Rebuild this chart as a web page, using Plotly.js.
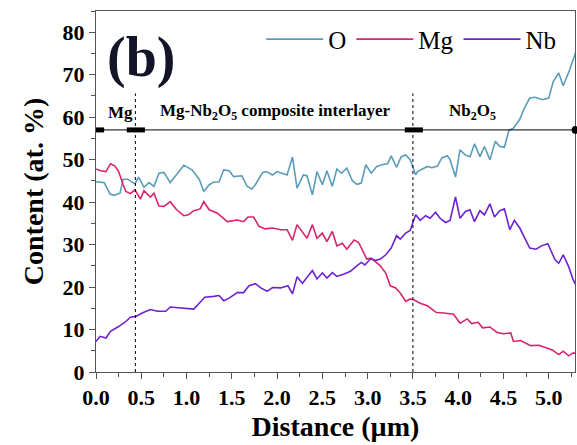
<!DOCTYPE html>
<html>
<head>
<meta charset="utf-8">
<script src="https://cdn.plot.ly/plotly-3.0.1.min.js"></script>
<style>html,body{margin:0;padding:0;background:#fff;}#chart{width:577px;height:445px;}</style>
</head>
<body>
<div id="chart"></div>
<script>
// Oxygen profile
var xO = [0.0,0.09,0.155,0.2,0.265,0.30,0.35,0.39,0.43,0.47,0.53,0.585,0.64,0.695,0.75,0.82,0.90,0.97,1.06,1.14,1.19,1.25,1.30,1.36,1.41,1.47,1.52,1.61,1.67,1.72,1.76,1.84,1.88,1.95,2.0,2.11,2.17,2.22,2.29,2.33,2.39,2.44,2.50,2.55,2.61,2.66,2.71,2.77,2.83,2.88,2.93,2.98,3.04,3.10,3.16,3.22,3.26,3.32,3.37,3.42,3.47,3.53,3.55,3.66,3.71,3.77,3.82,3.88,3.91,3.97,4.02,4.08,4.13,4.18,4.24,4.29,4.35,4.41,4.46,4.51,4.56,4.61,4.68,4.73,4.79,4.85,4.93,5.0,5.05,5.11,5.16,5.23,5.30];
var yO = [44.8,44.6,41.9,41.6,42.1,45.4,45.4,44.8,44.3,45.9,43.5,44.6,43.7,46.8,47.0,44.6,46.8,48.7,47.6,45.4,42.5,44.1,44.7,44.8,47.6,47.4,46.0,46.2,43.7,43.1,44.1,47.0,47.2,46.4,47.2,46.4,50.6,43.3,46.4,46.2,41.7,47.2,44.1,47.4,43.7,47.8,46.8,48.0,45.1,44.2,44.5,48.8,46.8,48.4,48.8,49.0,50.9,48.2,50.7,51.1,50.0,46.4,47.2,48.4,48.1,48.5,50.4,50.9,50.0,45.9,52.3,51.1,50.7,53.7,50.7,53.1,50.0,54.3,53.1,52.9,56.9,57.4,59.5,62.1,64.5,64.7,64.1,64.5,68.4,70.4,67.4,71.1,75.4];
// Magnesium profile
var xMg = [0.0,0.05,0.11,0.16,0.21,0.25,0.30,0.33,0.38,0.43,0.49,0.53,0.60,0.64,0.695,0.75,0.82,0.89,0.97,1.02,1.08,1.15,1.19,1.25,1.34,1.45,1.56,1.63,1.68,1.74,1.80,1.87,1.95,2.04,2.11,2.17,2.22,2.28,2.33,2.39,2.44,2.50,2.55,2.61,2.66,2.72,2.77,2.85,2.90,2.94,2.99,3.04,3.09,3.14,3.20,3.25,3.31,3.36,3.42,3.47,3.51,3.58,3.66,3.76,3.84,3.95,4.02,4.10,4.15,4.22,4.27,4.35,4.43,4.50,4.58,4.61,4.69,4.80,4.89,4.98,5.04,5.11,5.16,5.22,5.27,5.30];
var yMg = [47.8,47.4,47.2,49.0,48.5,47.2,44.1,42.5,42.0,42.9,40.7,42.7,41.2,42.1,39.1,39.0,40.1,38.2,36.8,37.0,38.0,38.4,40.1,38.2,37.4,35.4,35.8,35.4,36.5,36.5,34.3,33.7,33.9,33.5,33.5,31.0,34.7,33.1,31.5,34.7,31.5,32.7,30.7,33.1,29.7,30.3,28.9,31.1,30.5,28.8,26.6,26.8,26.0,25.0,23.3,20.3,19.8,18.6,16.6,17.2,17.0,16.2,15.6,14.0,13.9,13.6,11.5,12.5,11.4,11.7,10.4,10.6,9.3,9.0,9.2,7.2,7.4,6.2,6.3,5.6,5.2,4.1,4.9,3.8,4.5,4.3];
// Niobium profile
var xNb = [0.0,0.045,0.11,0.16,0.25,0.33,0.38,0.44,0.51,0.60,0.68,0.77,0.82,0.90,0.99,1.08,1.14,1.20,1.30,1.36,1.41,1.47,1.56,1.63,1.69,1.76,1.82,1.89,1.95,2.04,2.12,2.17,2.22,2.28,2.39,2.44,2.50,2.55,2.61,2.66,2.74,2.81,2.88,2.93,2.97,3.03,3.09,3.14,3.20,3.26,3.32,3.36,3.42,3.47,3.53,3.58,3.64,3.69,3.75,3.80,3.86,3.91,3.97,4.02,4.08,4.13,4.18,4.24,4.29,4.35,4.40,4.46,4.51,4.57,4.62,4.68,4.79,4.86,4.92,4.99,5.07,5.11,5.16,5.22,5.27,5.30];
var yNb = [7.2,8.4,8.0,9.6,10.7,11.9,12.9,13.1,13.9,14.7,14.3,14.3,15.3,15.1,14.9,14.8,16.2,17.6,17.8,18.0,16.8,17.4,18.7,18.7,20.3,20.8,19.8,19.0,19.9,19.8,20.3,18.4,22.4,20.9,23.9,21.9,23.3,22.1,23.4,22.5,23.1,23.7,25.0,25.8,25.2,26.6,26.3,26.6,27.6,29.2,32.1,31.3,32.7,33.3,37.0,35.7,36.8,36.2,37.6,36.2,35.2,35.7,41.2,36.2,37.8,38.2,35.4,38.0,37.0,39.6,36.5,38.0,38.4,33.5,35.7,33.9,29.2,28.9,29.7,30.2,26.4,25.6,27.6,24.8,21.7,20.5];

var seriesNames = ['O','Mg','Nb'];
var seriesColors = ['#5b9bbb','#d9246e','#6f22d2'];
var xTickVals = [0,0.5,1,1.5,2,2.5,3,3.5,4,4.5,5];
var xTickText = ['0.0','0.5','1.0','1.5','2.0','2.5','3.0','3.5','4.0','4.5','5.0'];
var yTickVals = [0,10,20,30,40,50,60,70,80];

var boundaryLevel = 57;
var boundaries = [0.435, 3.5];
var layerLabels = ['Mg','Mg-Nb<sub>2</sub>O<sub>5</sub> composite interlayer','Nb<sub>2</sub>O<sub>5</sub>'];
var layerLabelX = [0.27, 1.98, 4.16];

var serif = 'Liberation Serif';

var traces = [[xO,yO],[xMg,yMg],[xNb,yNb]].map(function(d,i){
  return {x:d[0], y:d[1], type:'scatter', mode:'lines', name:seriesNames[i],
          line:{color:seriesColors[i], width:1.6}};
});

var shapes = [
  {type:'line', xref:'paper', yref:'y', x0:0, x1:1, y0:boundaryLevel, y1:boundaryLevel, line:{color:'#000', width:1}},
  {type:'line', xref:'x', yref:'y', x0:0, x1:0.09, y0:boundaryLevel, y1:boundaryLevel, line:{color:'#000', width:5}},
  {type:'line', xref:'x', yref:'y', x0:0.34, x1:0.54, y0:boundaryLevel, y1:boundaryLevel, line:{color:'#000', width:5}},
  {type:'line', xref:'x', yref:'y', x0:3.41, x1:3.61, y0:boundaryLevel, y1:boundaryLevel, line:{color:'#000', width:5}},
  {type:'circle', xref:'paper', yref:'y', x0:0.993, x1:1.008, y0:boundaryLevel-0.9, y1:boundaryLevel+0.9, fillcolor:'#000', line:{color:'#000', width:0}}
];
boundaries.forEach(function(b){
  shapes.push({type:'line', xref:'x', yref:'y', x0:b, x1:b, y0:0, y1:65.6, line:{color:'#000', width:1, dash:'dot'}});
});

var annotations = [
  {text:'<b>(b)</b>', xref:'paper', yref:'paper', x:0.018, y:0.87, xanchor:'left', yanchor:'middle', showarrow:false,
   font:{family:serif, size:56, color:'#141428'}}
];
layerLabels.forEach(function(t,i){
  annotations.push({text:'<b>'+t+'</b>', xref:'x', yref:'y', x:layerLabelX[i], y:61.2, showarrow:false,
    xanchor:'center', yanchor:'middle', font:{family:serif, size:17, color:'#000'}});
});

var layout = {
  width:577, height:445,
  margin:{l:96, r:2, t:11, b:73},
  paper_bgcolor:'#fff', plot_bgcolor:'#fff',
  font:{family:serif},
  showlegend:true,
  legend:{orientation:'h', x:0.345, y:0.985, xanchor:'left', yanchor:'top', itemwidth:57,
          font:{family:serif, size:25, color:'#000'}, bgcolor:'rgba(0,0,0,0)', tracegroupgap:0},
  xaxis:{range:[0,5.29], tickvals:xTickVals, ticktext:xTickText, ticks:'outside', ticklen:6, tickwidth:1, tickcolor:'#555',
         minor:{dtick:0.25, tick0:0, ticks:'outside', ticklen:4, tickcolor:'#555'},
         showline:true, linecolor:'#555', linewidth:1, mirror:true, showgrid:false, zeroline:false,
         tickfont:{family:serif, size:22, color:'#000', weight:'bold'},
         title:{text:'<b>Distance (µm)</b>', font:{family:serif, size:28, color:'#000'}, standoff:6}},
  yaxis:{range:[0,85], tickvals:yTickVals, ticks:'outside', ticklen:6, tickwidth:1, tickcolor:'#555',
         minor:{dtick:5, tick0:0, ticks:'outside', ticklen:4, tickcolor:'#555'},
         showline:true, linecolor:'#555', linewidth:1, mirror:true, showgrid:false, zeroline:false,
         tickfont:{family:serif, size:22, color:'#000', weight:'bold'},
         title:{text:'<b>Content (at. %)</b>', font:{family:serif, size:28, color:'#000'}, standoff:10}},
  shapes:shapes, annotations:annotations
};

Plotly.newPlot('chart', traces, layout, {displayModeBar:false, staticPlot:true});
</script>
</body>
</html>
